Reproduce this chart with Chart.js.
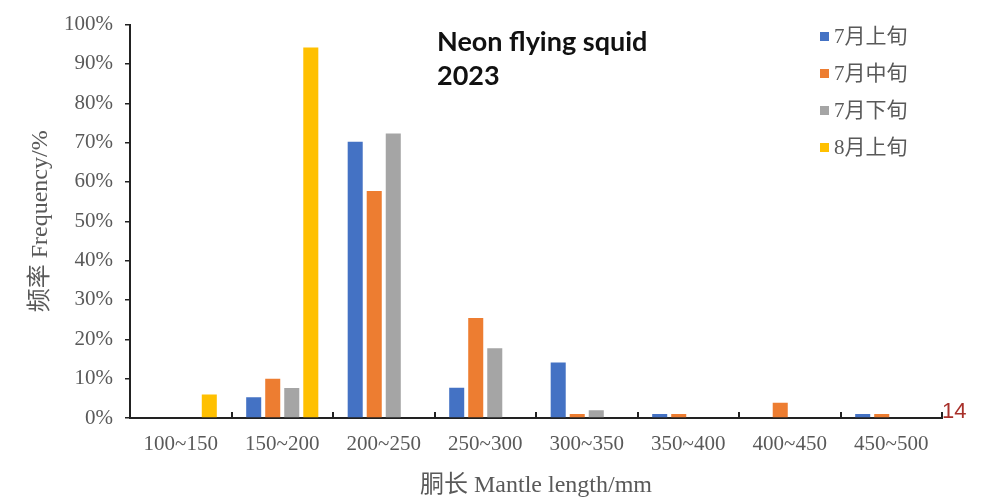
<!DOCTYPE html>
<html>
<head>
<meta charset="utf-8">
<script src="https://cdn.jsdelivr.net/npm/chart.js@4.4.1/dist/chart.umd.min.js"></script>
<style>
  html, body { margin: 0; padding: 0; background: #fff; }
  #wrap { width: 985px; height: 498px; }
</style>
</head>
<body>
<div id="wrap"><canvas id="chart" width="985" height="498"></canvas></div>
<script>
// Mantle length classes (mm)
const lengthClasses = ['100~150', '150~200', '200~250', '250~300', '300~350', '350~400', '400~450', '450~500'];

// Frequency (%) per ten-day sampling period
const earlyJuly   = [0,   5.3, 70.2,  7.7, 14.1, 1.0, 0,   1.0];
const midJuly     = [0,  10.0, 57.7, 25.4,  1.0, 1.0, 3.9, 1.0];
const lateJuly    = [0,   7.6, 72.3, 17.7,  2.0, 0,   0,   0  ];
const earlyAugust = [6.0, 94.2, 0,    0,    0,   0,   0,   0  ];

const seriesNames  = ['7月上旬', '7月中旬', '7月下旬', '8月上旬'];
const seriesColors = ['#4472C4', '#ED7D31', '#A5A5A5', '#FFC000'];
const titleLines   = ['Neon flying squid', '2023'];
const pageMark     = '14';

const serif = "'Liberation Serif', 'Noto Sans CJK SC', serif";
const axisText = '#595959';
const axisLine = '#222222';

// Title, legend, inward category ticks and page mark
const decorations = {
  id: 'decorations',
  afterDatasetsDraw(chart) {
    const ctx = chart.ctx;
    const xs = chart.scales.x;
    const area = chart.chartArea;

    // short upward ticks on the category boundaries
    const half = (xs.getPixelForValue(1) - xs.getPixelForValue(0)) / 2;
    ctx.save();
    ctx.strokeStyle = axisLine;
    ctx.lineWidth = 2;
    for (let i = 1; i <= lengthClasses.length; i++) {
      const x = Math.round(xs.getPixelForValue(i - 1) + half);
      ctx.beginPath();
      ctx.moveTo(x, area.bottom + 1);
      ctx.lineTo(x, area.bottom - 6);
      ctx.stroke();
    }
    ctx.restore();

    // chart title
    ctx.save();
    ctx.fillStyle = '#111111';
    ctx.font = "bold 27px Lato, 'Open Sans', sans-serif";
    ctx.textAlign = 'left';
    ctx.textBaseline = 'alphabetic';
    titleLines.forEach((t, i) => ctx.fillText(t, 437, 51 + i * 34));
    ctx.restore();

    // legend
    ctx.save();
    ctx.font = '21px ' + serif;
    ctx.textBaseline = 'middle';
    ctx.textAlign = 'left';
    chart.data.datasets.forEach((ds, i) => {
      const cy = 36 + i * 37.3;
      ctx.fillStyle = ds.backgroundColor;
      ctx.fillRect(820, Math.round(cy - 4.5), 9, 9);
      ctx.fillStyle = axisText;
      ctx.fillText(ds.label, 834, cy + 1);
    });
    ctx.restore();

    // page mark at the end of the axis
    ctx.save();
    ctx.fillStyle = '#A8302A';
    ctx.font = "22px 'Liberation Sans', sans-serif";
    ctx.textAlign = 'left';
    ctx.textBaseline = 'alphabetic';
    ctx.fillText(pageMark, 942, 418);
    ctx.restore();
  }
};

const seriesData = [earlyJuly, midJuly, lateJuly, earlyAugust];

new Chart(document.getElementById('chart'), {
  type: 'bar',
  data: {
    labels: lengthClasses,
    datasets: seriesNames.map((name, i) => ({
      label: name,
      data: seriesData[i],
      backgroundColor: seriesColors[i],
      borderWidth: 0
    }))
  },
  options: {
    responsive: false,
    animation: false,
    layout: { padding: { left: 0, right: 43, top: 20, bottom: 0 } },
    datasets: { bar: { categoryPercentage: 0.75, barPercentage: 0.79 } },
    plugins: {
      legend: { display: false },
      tooltip: { enabled: false },
      title: { display: false }
    },
    scales: {
      x: {
        grid: { display: false, drawOnChartArea: false, drawTicks: false },
        border: { display: true, color: axisLine, width: 2 },
        ticks: {
          font: { family: serif, size: 21 },
          color: axisText,
          padding: 14,
          maxRotation: 0,
          autoSkip: false
        },
        title: {
          display: true,
          text: '胴长 Mantle length/mm',
          font: { family: serif, size: 24 },
          color: axisText,
          padding: { top: 0, bottom: -2 }
        },
        afterFit(scale) { scale.height = 80; }
      },
      y: {
        min: 0,
        max: 100,
        ticks: {
          stepSize: 10,
          callback: v => v + '%',
          font: { family: serif, size: 21 },
          color: axisText,
          padding: 12
        },
        grid: {
          drawOnChartArea: false,
          drawTicks: true,
          tickLength: 5,
          color: axisLine,
          lineWidth: 1.5
        },
        border: { display: true, color: axisLine, width: 2 },
        title: {
          display: true,
          text: '频率 Frequency/%',
          font: { family: serif, size: 24 },
          color: axisText,
          padding: { top: 26, bottom: 0 }
        },
        afterFit(scale) { scale.width = 130; }
      }
    }
  },
  plugins: [decorations]
});
</script>
</body>
</html>
